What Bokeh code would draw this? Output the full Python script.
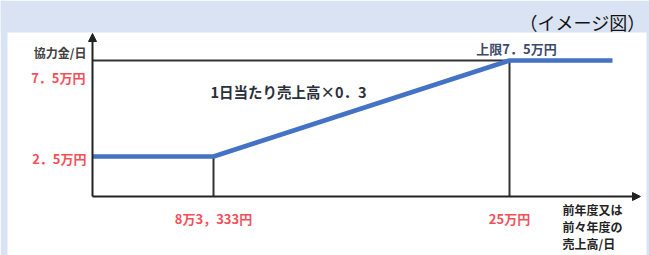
from bokeh.plotting import figure
from bokeh.models import Range1d, Arrow, NormalHead, BoxAnnotation
from bokeh.core.properties import value
from bokeh.embed import file_html
from bokeh.resources import INLINE

# ---- data ----
sales_breaks = [83333, 250000]            # 前年度又は前々年度の売上高/日 (円)
payment_levels = [2.5, 7.5]               # 協力金/日 (万円)
line_x = [15203, 83333, 250000, 308000]   # schematic sales axis (illustration)
line_y = [2.5, 2.5, 7.5, 7.5]             # 協力金 (万円)
x_tick_labels = ["8万3，333円", "25万円"]
y_tick_labels = ["2．5万円", "7．5万円"]
y_title = "協力金/日"
x_title = ["前年度又は", "前々年度の", "売上高/日"]
slope_label = "1日当たり売上高×0．3"
cap_label = "上限7．5万円"
note = "（イメージ図）"

# ---- layout helpers (pixel -> data) ----
W, H = 649, 255
XPX = (sales_breaks[1] - sales_breaks[0]) / 296.0   # yen per pixel
YPX = (payment_levels[1] - payment_levels[0]) / 96.0  # 万円 per pixel

def X(rx):
    return sales_breaks[0] + (rx - 213) * XPX

def Y(ry):
    return payment_levels[0] - (ry - 156) * YPX

x0_axis = X(92)
y0_axis = Y(196)

p = figure(width=W, height=H, output_backend="svg", toolbar_location=None,
           x_range=Range1d(X(0), X(W)), y_range=Range1d(Y(H), Y(0)),
           x_axis_location=None, y_axis_location=None, min_border=0,
           background_fill_color="white", border_fill_color="white")
p.grid.visible = False
p.outline_line_color = None

BLUE_BG = "#dae3f3"
RED = "#f2505a"
DARK = "#333333"
FONT = value("Noto Sans CJK JP")

p.add_layout(BoxAnnotation(bottom=Y(32), fill_color=BLUE_BG, fill_alpha=1,
                           line_color=None, level="underlay"))
p.add_layout(BoxAnnotation(right=X(7), fill_color=BLUE_BG, fill_alpha=1,
                           line_color=None, level="underlay"))
p.add_layout(BoxAnnotation(left=X(646), fill_color=BLUE_BG, fill_alpha=1,
                           line_color=None, level="underlay"))

# guide lines
p.line([x0_axis, sales_breaks[1]], [payment_levels[1], payment_levels[1]], line_color=DARK, line_width=2)
p.line([sales_breaks[1], sales_breaks[1]], [y0_axis, payment_levels[1]], line_color=DARK, line_width=2)
p.line([sales_breaks[0], sales_breaks[0]], [y0_axis, payment_levels[0]], line_color=DARK, line_width=2)

# axes with arrow heads
p.add_layout(Arrow(x_start=x0_axis, y_start=y0_axis, x_end=x0_axis, y_end=Y(33),
                   line_color="#222222", line_width=2,
                   end=NormalHead(size=8, fill_color="#222222", line_color="#222222")))
p.add_layout(Arrow(x_start=x0_axis, y_start=y0_axis, x_end=X(640), y_end=y0_axis,
                   line_color="#222222", line_width=2,
                   end=NormalHead(size=8, fill_color="#222222", line_color="#222222")))

# payment line
p.line(line_x, line_y, line_color="#4472c4", line_width=4.5)

def txt(x, y, s, color, size, align="left", style="bold"):
    p.text([x], [y], text=[s], text_color=color, text_font=FONT,
           text_font_size=size, text_align=align, text_baseline="middle",
           text_font_style=style)

txt(X(86), Y(52), y_title, "#404040", "12px", "right")
txt(X(85), Y(77), y_tick_labels[1], RED, "13px", "right")
txt(X(86), Y(158), y_tick_labels[0], RED, "13px", "right")
txt(sales_breaks[0], Y(218), x_tick_labels[0], RED, "13px", "center")
txt(sales_breaks[1], Y(218), x_tick_labels[1], RED, "13px", "center")
txt(X(516), Y(48), cap_label, "#3b4a6b", "13px", "center")
txt(X(210), Y(91), slope_label, "#2b2f3a", "14.5px", "left")
for i, s in enumerate(x_title):
    txt(X(562), Y(209 + 17 * i), s, "#222222", "12px", "left")
txt(X(645), Y(21), note, "#111111", "18px", "right", "normal")

open("out.html", "w").write(file_html(p, INLINE))
